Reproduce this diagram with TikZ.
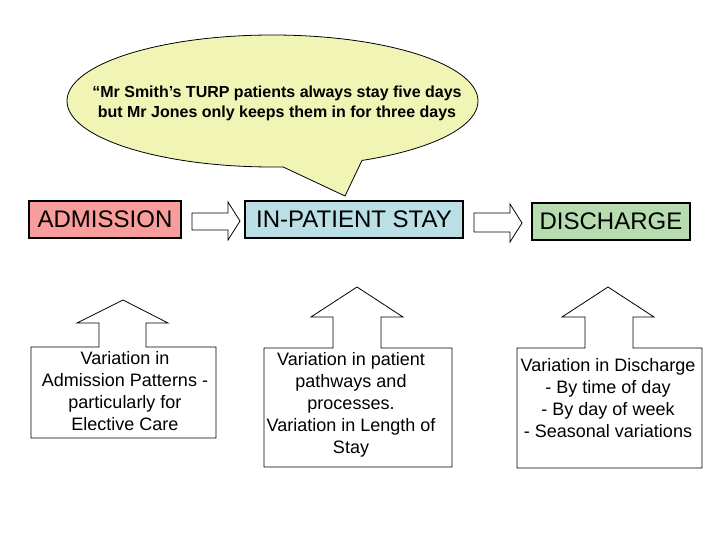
\documentclass[tikz,border=0pt]{standalone}
\usepackage{fontspec}
\setmainfont{Liberation Sans}
\definecolor{admfill}{RGB}{248,156,156}
\definecolor{stayfill}{RGB}{186,224,230}
\definecolor{disfill}{RGB}{182,220,176}
\definecolor{bubble}{RGB}{240,245,182}
\begin{document}
\begin{tikzpicture}[x=1pt,y=-1pt,
  stagebox/.style={draw=black, line width=1.6pt, inner sep=0pt,
    font=\fontsize{24}{28}\selectfont},
  blockarrow/.style={draw=black, line width=0.8pt, fill=white, line join=miter},
  callshape/.style={draw=black, line width=0.8pt, fill=white, line join=miter},
  bubbleline/.style={draw=black, line width=0.8pt, line join=miter},
  calltext/.style={align=center, inner sep=0pt, font=\fontsize{18}{22}\selectfont},
  quotetext/.style={align=center, inner sep=0pt, font=\fontsize{16}{20}\selectfont\bfseries}]
\useasboundingbox (0,0) rectangle (720,540);
\fill[white] (0,0) rectangle (720,540);

% speech bubble
\coordinate (bc) at (272.5,101);
\coordinate (tl) at (283,166.9);
\coordinate (tip) at (345,196);
\coordinate (tr) at (362,160.4);
\fill[bubble] (bc) ellipse [x radius=205.5pt, y radius=66pt];
\draw[bubbleline] (bc) ellipse [x radius=205.5pt, y radius=66pt];
\fill[bubble] (tl) -- (tip) -- (tr) -- (362,150) -- (283,155) -- cycle;
\draw[bubbleline] (tl) -- (tip) -- (tr);
\node[quotetext] (quote) at (277,103)
  {“Mr Smith’s TURP patients always stay five days\\ but Mr Jones only keeps them in for three days};

% stage boxes
\node[stagebox, fill=admfill, minimum width=152pt, minimum height=37pt] (adm) at (105,219.5) {ADMISSION};
\node[stagebox, fill=stayfill, minimum width=218pt, minimum height=37pt] (stay) at (354,219.5) {IN-PATIENT STAY};
\node[stagebox, fill=disfill, minimum width=158pt, minimum height=37pt] (dis) at (611,221.5) {DISCHARGE};

% block arrows between stages
\draw[blockarrow] (192,213) -- (228,213) -- (228,202) -- (240,221) -- (228,240) -- (228,230) -- (192,230) -- cycle;
\draw[blockarrow] (474,213) -- (510,213) -- (510,204) -- (522,223) -- (510,242) -- (510,232) -- (474,232) -- cycle;

% up-arrow callouts
\draw[callshape] (31,347) -- (99,347) -- (99,323) -- (77,323) -- (123,300) -- (168,323) -- (146,323) -- (146,347)
  -- (216,347) -- (216,438) -- (31,438) -- cycle;
\node[calltext] (var1) at (125,391)
  {Variation in\\Admission Patterns -\\particularly for\\Elective Care};

\draw[callshape] (264,348) -- (333,348) -- (333,317) -- (311,317) -- (357,287) -- (403,317) -- (381,317) -- (381,348)
  -- (452,348) -- (452,467) -- (264,467) -- cycle;
\node[calltext] (var2) at (351,405)
  {Variation in patient\\pathways and\\processes.\\Variation in Length of\\Stay};

\draw[callshape] (517,348) -- (585,348) -- (585,317) -- (562,317) -- (608,287) -- (654,317) -- (633,317) -- (633,348)
  -- (702,348) -- (702,468) -- (517,468) -- cycle;
\node[calltext] (var3) at (608,398)
  {Variation in Discharge\\- By time of day\\- By day of week\\- Seasonal variations};
\end{tikzpicture}
\end{document}
